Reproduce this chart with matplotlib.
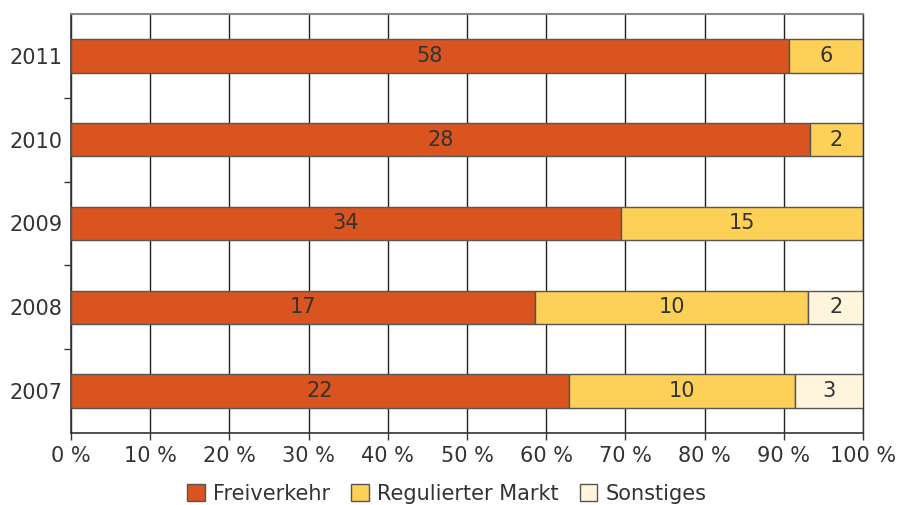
import matplotlib
matplotlib.use("Agg")
import matplotlib.pyplot as plt
import numpy as np

years = ["2007", "2008", "2009", "2010", "2011"]
freiverkehr = [22, 17, 34, 28, 58]
regulierter = [10, 10, 15, 2, 6]
sonstiges = [3, 2, 0, 0, 0]
series_names = ["Freiverkehr", "Regulierter Markt", "Sonstiges"]
colors = ["#D9541E", "#FDD158", "#FFF5DC"]
xtick_labels = ["0 %", "10 %", "20 %", "30 %", "40 %", "50 %", "60 %", "70 %", "80 %", "90 %", "100 %"]

plt.rcParams["font.family"] = ["DejaVu Sans"]
text_color = "#333333"
fs = 15

fig = plt.figure(figsize=(9.12, 5.05), dpi=100)
ax = fig.add_axes([71 / 912, 1 - 433 / 505, (863 - 71) / 912, (433 - 14) / 505])

data = np.array([freiverkehr, regulierter, sonstiges], dtype=float)
totals = data.sum(axis=0)
shares = data / totals * 100
y = np.arange(len(years))

left = np.zeros(len(years))
for i, name in enumerate(series_names):
    bars = ax.barh(y, shares[i], left=left, height=0.4, color=colors[i],
                   edgecolor="#555555", linewidth=1.0, label=name, zorder=3)
    for j, b in enumerate(bars):
        if data[i, j] > 0:
            ax.text(left[j] + shares[i, j] / 2, y[j], f"{int(data[i, j])}",
                    ha="center", va="center", fontsize=fs, color=text_color, zorder=4)
    left += shares[i]

ax.set_xlim(0, 100)
ax.set_ylim(-0.5, len(years) - 0.5)
ax.set_xticks(np.arange(0, 101, 10))
ax.set_xticklabels(xtick_labels, fontsize=fs, color=text_color)
ax.set_yticks(y)
ax.set_yticklabels(years, fontsize=fs, color=text_color)
ax.tick_params(axis="y", which="major", length=0, pad=6)
ax.set_yticks(np.arange(0.5, len(years) - 1, 1.0), minor=True)
ax.tick_params(axis="y", which="minor", length=5, color="#333333", width=1)
ax.tick_params(axis="x", length=5, color="#333333", width=1, pad=4)

ax.grid(axis="x", color="#222222", linewidth=1.0, zorder=0)
ax.set_axisbelow(True)
for side in ["left", "bottom"]:
    ax.spines[side].set_color("#333333")
    ax.spines[side].set_linewidth(1.2)
ax.spines["top"].set_color("#888888")
ax.spines["top"].set_linewidth(1.5)
ax.spines["right"].set_color("#333333")
ax.spines["right"].set_linewidth(1.0)

leg = fig.legend(loc="lower center", bbox_to_anchor=(0.49, -0.035), ncol=3, frameon=False,
                 fontsize=fs, handlelength=0.85, handleheight=0.85, handletextpad=0.4,
                 columnspacing=1.0)
for t in leg.get_texts():
    t.set_color(text_color)

fig.savefig("out.png", dpi=100)
